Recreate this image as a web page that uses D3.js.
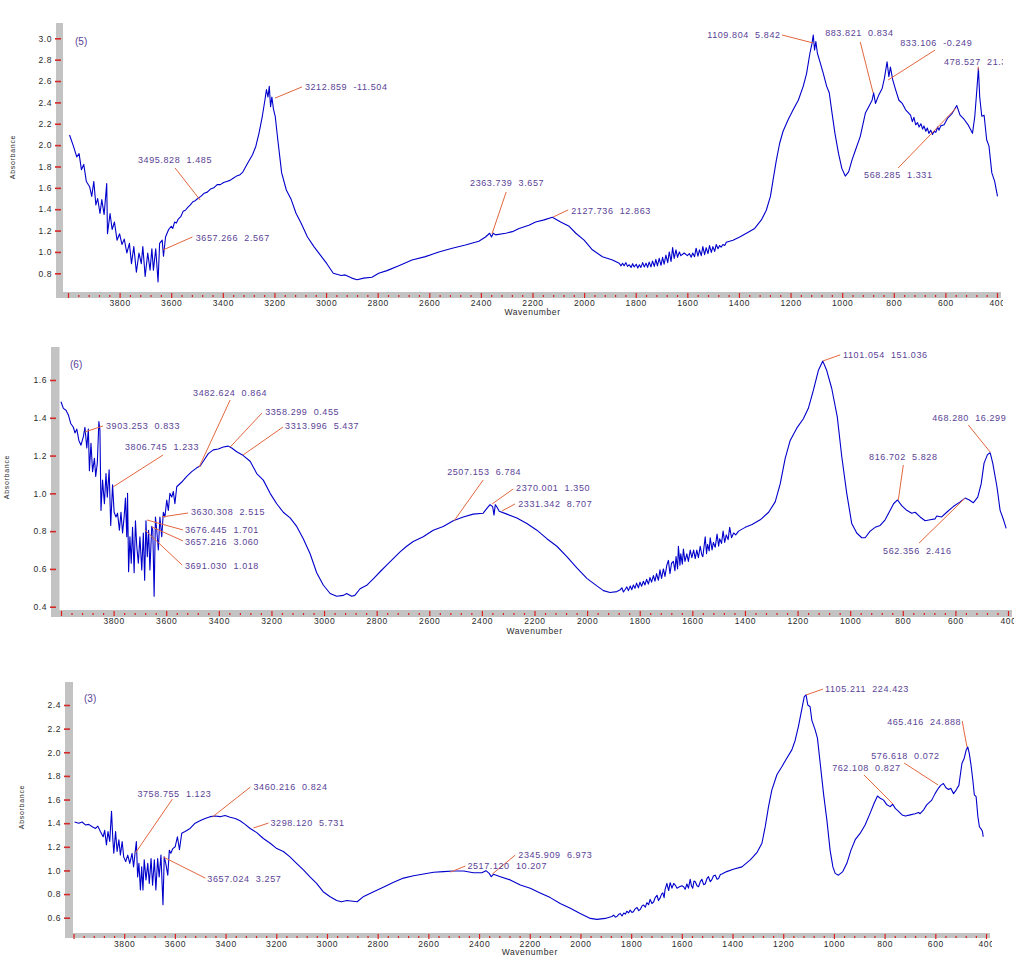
<!DOCTYPE html>
<html>
<head>
<meta charset="utf-8">
<script src="https://cdn.jsdelivr.net/npm/d3@7"></script>
<style>
  body { margin: 0; background: #fff; }
  svg text { font-family: "Liberation Sans", Arial, sans-serif; }
  .tick text { fill: #2a2a2a; font-size: 8.5px; letter-spacing: 0.6px; }
  .peak-label { fill: #5a4296; font-size: 9px; letter-spacing: 0.6px; white-space: pre; }
  .panel-name { fill: #5a4296; font-size: 10px; }
  .axis-title { fill: #2a2a2a; font-size: 8.5px; letter-spacing: 0.6px; }
  .y-title { fill: #2a2a2a; font-size: 7px; letter-spacing: 0.7px; }
</style>
</head>
<body>
<svg id="chart" width="1028" height="963"></svg>
<script>
// ---- data: [wavenumber, absorbance] ----
const spec5 = [
  [3994,2.095],[3979,1.99],[3966,1.89],[3957,1.92],[3948,1.77],[3939,1.82],[3929,1.66],[3916,1.61],
  [3908,1.52],[3900,1.66],[3892,1.44],[3885,1.50],[3876,1.36],[3869,1.49],[3860,1.35],[3850,1.64],
  [3847,1.17],[3837,1.36],[3829,1.21],[3820,1.28],[3810,1.11],[3800,1.17],[3791,1.07],[3782,1.12],
  [3772,0.99],[3762,1.08],[3754,0.89],[3745,1.05],[3735,0.81],[3725,0.99],[3716,0.89],[3710,1.05],
  [3701,0.77],[3691,0.99],[3682,0.83],[3675,1.03],[3669,0.83],[3660,1.03],[3651,0.72],[3645,1.08],
  [3635,1.11],[3630,0.96],[3622,1.14],[3610,1.21],[3600,1.24],[3594,1.22],[3587,1.28],[3580,1.27],
  [3572,1.31],[3563,1.33],[3554,1.38],[3545,1.39],[3535,1.42],[3526,1.44],[3516,1.47],[3507,1.48],
  [3497,1.50],[3485,1.52],[3472,1.55],[3460,1.56],[3447,1.59],[3435,1.60],[3422,1.63],[3410,1.63],
  [3397,1.65],[3385,1.66],[3372,1.67],[3360,1.69],[3347,1.71],[3335,1.72],[3322,1.75],[3304,1.83],
  [3285,1.91],[3272,1.99],[3260,2.11],[3247,2.27],[3237,2.42],
  [3231,2.52],[3225,2.45],[3220,2.55],[3215,2.36],[3210,2.45],[3204,2.34],[3197,2.27],[3187,2.05],
  [3172,1.74],[3154,1.58],[3135,1.49],[3116,1.36],[3097,1.27],[3072,1.14],[3047,1.05],[3022,0.97],
  [2997,0.89],[2972,0.80],[2941,0.78],[2926,0.785],[2900,0.755],[2880,0.74],[2854,0.755],[2822,0.763],
  [2796,0.80],[2764,0.825],[2718,0.87],[2667,0.925],[2615,0.956],[2563,1.0],[2511,1.035],[2460,1.065],
  [2408,1.10],[2382,1.14],[2366,1.175],[2359,1.14],[2352,1.175],[2343,1.16],[2304,1.175],[2278,1.19],
  [2252,1.22],[2214,1.25],[2188,1.28],[2155,1.30],[2123,1.325],[2091,1.28],[2058,1.24],[2032,1.175],
  [2000,1.11],[1968,1.02],[1929,0.955],[1890,0.925],[1864,0.894],[1857,0.87],[1851,0.895],[1845,0.87],
  [1838,0.90],[1832,0.865],[1825,0.88],[1818,0.855],[1812,0.89],[1806,0.86],[1798,0.885],[1792,0.85],
  [1786,0.88],[1780,0.855],[1773,0.90],[1767,0.86],[1760,0.895],[1754,0.855],[1748,0.905],[1741,0.86],
  [1735,0.915],[1728,0.865],[1722,0.93],[1716,0.87],[1709,0.94],[1702,0.875],[1696,0.95],[1690,0.885],
  [1683,0.97],[1676,0.90],[1670,1.0],[1663,0.91],[1657,1.04],[1651,0.94],[1644,1.02],[1638,0.95],
  [1631,1.0],[1625,0.965],[1612,0.99],[1600,0.965],[1592,0.985],[1585,0.95],[1579,0.99],[1572,0.955],
  [1566,1.035],[1559,0.96],[1553,1.02],[1546,0.965],[1540,1.05],[1533,0.975],[1527,1.04],[1520,0.985],
  [1514,1.06],[1507,0.995],[1501,1.05],[1494,1.005],[1488,1.07],[1481,1.03],[1475,1.06],[1469,1.045],
  [1462,1.07],[1455,1.06],[1449,1.09],
  [1423,1.11],[1397,1.14],[1371,1.175],[1339,1.22],[1313,1.30],[1294,1.39],[1278,1.52],[1268,1.67],
  [1255,1.86],[1242,2.02],[1229,2.13],[1209,2.24],[1190,2.33],[1170,2.42],[1151,2.55],[1138,2.67],
  [1125,2.86],[1117,2.95],[1112,3.03],[1107,2.89],[1102,2.97],[1096,2.86],[1086,2.78],[1073,2.67],
  [1060,2.55],[1050,2.49],[1041,2.33],[1028,2.11],[1014,1.92],[1001,1.78],[988,1.71],[975,1.75],
  [962,1.86],[949,1.95],[930,2.08],[910,2.30],[897,2.36],[884,2.42],[878,2.49],[871,2.39],
  [858,2.47],[845,2.53],[836,2.63],[826,2.78],[819,2.64],[813,2.73],[804,2.61],[793,2.52],
  [780,2.42],[767,2.39],[754,2.33],[735,2.28],[728,2.22],[722,2.26],[715,2.19],[708,2.21],
  [702,2.17],[695,2.20],[688,2.15],[683,2.18],[676,2.13],[670,2.16],[664,2.11],[657,2.14],
  [650,2.10],[644,2.13],[637,2.12],[630,2.17],[625,2.14],[618,2.18],[605,2.19],[592,2.25],
  [573,2.30],[556,2.37],[543,2.28],[527,2.24],[512,2.19],[495,2.11],[486,2.27],[478,2.52],
  [472,2.72],[467,2.45],[459,2.27],[450,2.28],[440,2.05],[431,1.99],[420,1.74],[409,1.66],[398,1.52]
];

const spec6 = [
  [4000,1.485],[3991,1.45],[3981,1.44],[3972,1.415],[3963,1.37],[3953,1.35],[3947,1.32],[3940,1.34],
  [3932,1.28],[3924,1.255],[3915,1.30],[3909,1.35],[3902,1.24],[3896,1.34],[3892,1.12],[3886,1.265],
  [3880,1.115],[3873,1.185],[3868,1.09],[3862,1.16],[3856,1.38],[3852,1.335],[3848,0.91],[3842,1.07],
  [3835,0.945],[3829,1.105],[3824,0.98],[3817,1.125],[3811,0.83],[3804,1.045],[3798,0.90],[3791,0.875],
  [3785,0.895],[3778,0.805],[3772,0.90],[3766,0.79],[3760,0.875],[3755,0.975],[3750,0.77],[3747,1.0],
  [3743,0.585],[3738,0.77],[3733,0.63],[3728,0.82],[3722,0.58],[3717,0.855],[3712,0.72],[3706,0.63],
  [3700,0.77],[3693,0.595],[3687,0.79],[3682,0.54],[3677,0.855],[3672,0.665],[3667,0.805],[3662,0.595],
  [3655,0.825],[3651,0.805],[3646,0.455],[3641,0.875],[3636,0.805],[3630,0.70],[3624,0.875],[3617,0.77],
  [3611,0.90],[3605,0.875],[3598,0.965],[3592,0.91],[3586,1.0],[3579,0.98],[3573,1.01],[3567,0.945],
  [3560,1.035],[3541,1.06],[3522,1.09],[3503,1.115],[3484,1.135],[3471,1.145],[3459,1.17],[3440,1.21],
  [3421,1.23],[3402,1.235],[3383,1.245],[3364,1.25],[3351,1.24],[3332,1.22],[3307,1.20],[3281,1.17],
  [3256,1.105],[3231,1.07],[3205,1.0],[3180,0.945],[3155,0.90],[3129,0.87],[3104,0.825],[3079,0.76],
  [3053,0.68],[3028,0.58],[3003,0.515],[2977,0.47],[2952,0.455],[2926,0.46],[2914,0.47],[2895,0.455],
  [2883,0.46],[2863,0.495],[2836,0.515],[2811,0.55],[2787,0.585],[2762,0.62],[2737,0.655],[2711,0.69],
  [2686,0.72],[2661,0.745],[2623,0.77],[2585,0.805],[2547,0.825],[2509,0.855],[2471,0.875],[2433,0.89],
  [2395,0.895],[2381,0.92],[2369,0.94],[2359,0.93],[2354,0.885],[2349,0.94],[2344,0.93],[2334,0.905],
  [2305,0.89],[2267,0.87],[2229,0.84],[2191,0.805],[2153,0.76],[2115,0.72],[2077,0.665],[2039,0.605],
  [2001,0.55],[1963,0.51],[1938,0.485],[1913,0.475],[1887,0.48],[1874,0.49],[1868,0.50],[1862,0.478],
  [1856,0.49],[1849,0.505],[1843,0.485],[1836,0.51],[1830,0.49],[1824,0.515],[1818,0.497],[1812,0.525],
  [1805,0.50],[1799,0.53],[1793,0.508],[1786,0.535],[1780,0.515],[1774,0.545],[1767,0.52],[1761,0.555],
  [1755,0.53],[1748,0.565],[1742,0.535],[1736,0.575],[1729,0.54],[1723,0.595],[1717,0.55],[1710,0.60],
  [1704,0.56],[1697,0.62],[1691,0.645],[1685,0.575],[1679,0.63],[1672,0.64],[1666,0.59],[1662,0.665],
  [1656,0.60],[1653,0.72],[1647,0.62],[1644,0.68],[1638,0.625],[1634,0.705],[1628,0.64],
  [1621,0.68],[1615,0.64],[1608,0.70],[1602,0.66],[1595,0.70],[1589,0.655],[1583,0.70],[1577,0.66],
  [1570,0.72],[1564,0.675],[1560,0.665],[1551,0.77],[1546,0.68],[1542,0.73],[1536,0.695],[1532,0.765],
  [1525,0.70],[1520,0.74],[1513,0.715],[1506,0.785],[1500,0.72],[1496,0.76],[1489,0.735],[1483,0.80],
  [1477,0.74],[1471,0.78],[1464,0.755],[1458,0.82],[1451,0.765],[1443,0.79],[1435,0.78],[1424,0.80],
  [1399,0.82],[1373,0.835],[1342,0.86],[1310,0.90],[1285,0.955],[1266,1.05],[1247,1.185],[1228,1.28],
  [1203,1.345],[1178,1.395],[1159,1.45],[1140,1.545],[1121,1.65],[1104,1.70],[1089,1.65],[1070,1.555],
  [1049,1.405],[1032,1.195],[1013,1.0],[994,0.84],[975,0.79],[956,0.765],[943,0.765],[924,0.80],
  [905,0.82],[886,0.83],[867,0.86],[848,0.91],[835,0.945],[820,0.965],[804,0.935],[785,0.91],
  [766,0.895],[753,0.90],[734,0.875],[715,0.855],[696,0.86],[677,0.865],[671,0.88],[652,0.875],
  [633,0.90],[608,0.93],[582,0.955],[563,0.975],[547,0.965],[532,0.95],[515,0.98],[502,1.05],
  [491,1.16],[478,1.205],[468,1.215],[458,1.16],[442,1.035],[430,0.91],[417,0.86],[407,0.815]
];

const spec3 = [
  [3996,1.41],[3979,1.40],[3966,1.41],[3953,1.385],[3940,1.39],[3926,1.37],[3913,1.355],[3904,1.375],
  [3894,1.33],[3883,1.285],[3877,1.34],[3870,1.215],[3864,1.33],[3857,1.245],[3850,1.50],[3845,1.27],
  [3841,1.145],[3834,1.33],[3828,1.16],[3821,1.26],[3815,1.13],[3808,1.245],[3802,1.115],[3794,1.075],
  [3786,1.13],[3778,1.06],[3769,1.145],[3763,1.03],[3756,1.17],[3752,1.245],[3747,0.945],[3742,1.06],
  [3736,0.835],[3731,1.03],[3726,0.835],[3721,1.09],[3714,0.92],[3707,1.06],[3701,0.89],[3694,1.10],
  [3688,0.875],[3681,1.09],[3675,0.835],[3668,1.10],[3662,0.945],[3655,1.13],[3647,0.71],[3642,1.115],
  [3636,1.06],[3628,0.96],[3622,1.17],[3616,1.145],[3608,1.185],[3599,1.20],[3590,1.285],[3582,1.175],
  [3573,1.315],[3560,1.33],[3540,1.355],[3520,1.40],[3501,1.42],[3481,1.44],[3461,1.455],[3441,1.46],
  [3422,1.455],[3402,1.465],[3382,1.45],[3362,1.44],[3343,1.42],[3323,1.39],[3303,1.355],[3277,1.32],
  [3251,1.27],[3224,1.23],[3198,1.185],[3172,1.16],[3146,1.115],[3120,1.06],[3093,1.005],[3067,0.945],
  [3041,0.89],[3015,0.82],[2989,0.78],[2962,0.745],[2943,0.735],[2921,0.745],[2881,0.735],[2855,0.78],
  [2816,0.82],[2776,0.86],[2737,0.90],[2698,0.935],[2658,0.955],[2619,0.97],[2579,0.985],[2540,0.99],
  [2500,0.995],[2461,0.995],[2422,0.98],[2389,0.98],[2373,0.998],[2360,0.975],[2352,0.947],[2343,0.967],
  [2316,0.947],[2277,0.92],[2237,0.876],[2198,0.85],[2159,0.81],[2119,0.77],[2080,0.72],[2040,0.68],
  [2001,0.636],[1961,0.594],[1935,0.586],[1902,0.594],[1876,0.61],[1869,0.622],[1862,0.605],[1856,0.61],
  [1849,0.628],[1843,0.636],[1836,0.615],[1829,0.64],[1823,0.63],[1817,0.655],[1810,0.64],[1804,0.665],
  [1797,0.645],[1791,0.65],[1784,0.675],[1777,0.687],[1770,0.66],[1764,0.67],[1757,0.70],[1751,0.707],
  [1744,0.69],[1738,0.727],[1731,0.71],[1725,0.755],[1718,0.72],[1711,0.735],[1705,0.77],[1698,0.79],
  [1692,0.745],[1685,0.77],[1680,0.80],[1675,0.81],[1670,0.77],[1666,0.84],[1659,0.89],[1652,0.83],
  [1646,0.896],[1639,0.85],[1632,0.89],[1626,0.876],[1619,0.85],[1613,0.857],[1600,0.87],[1593,0.862],
  [1587,0.84],[1580,0.885],[1574,0.85],[1567,0.925],[1562,0.87],[1557,0.85],[1552,0.91],[1547,0.905],
  [1540,0.87],[1534,0.862],[1527,0.905],[1521,0.925],[1514,0.88],[1508,0.885],[1501,0.93],[1495,0.947],
  [1488,0.905],[1482,0.92],[1475,0.955],[1468,0.96],[1461,0.925],[1455,0.932],[1448,0.965],[1442,0.97],
  [1423,0.99],[1397,1.01],[1363,1.03],[1330,1.09],[1304,1.15],[1284,1.23],[1271,1.37],[1258,1.54],
  [1245,1.68],[1225,1.81],[1205,1.88],[1186,1.95],[1166,2.02],[1153,2.10],[1140,2.22],[1127,2.36],
  [1117,2.47],[1110,2.485],[1103,2.40],[1094,2.385],[1087,2.27],[1074,2.19],[1065,2.12],[1054,1.905],
  [1041,1.65],[1028,1.43],[1015,1.17],[1004,1.03],[995,0.975],[982,0.96],[965,0.99],[949,1.06],
  [933,1.17],[916,1.26],[896,1.315],[877,1.385],[857,1.485],[841,1.57],[828,1.63],[817,1.61],
  [804,1.595],[791,1.555],[778,1.54],[768,1.56],[758,1.525],[745,1.50],[731,1.47],[718,1.46],
  [699,1.47],[680,1.48],[666,1.49],[660,1.48],[647,1.51],[634,1.555],[614,1.595],[601,1.65],
  [588,1.695],[579,1.72],[568,1.735],[558,1.70],[548,1.685],[539,1.695],[528,1.65],[518,1.68],
  [507,1.72],[495,1.905],[486,1.95],[478,2.02],[472,2.045],[466,1.99],[459,1.89],[452,1.765],
  [446,1.64],[439,1.625],[432,1.455],[426,1.37],[419,1.35],[414,1.33],[411,1.285]
];

// peak labels: text, label spot, leader start, leader end (all in wavenumber / absorbance)
const peaks5 = [
  {text: "3495.828  1.485",   label: [3729, 1.861], from: [3585, 1.786], to: [3488, 1.486]},
  {text: "3657.266  2.567",   label: [3505, 1.131], from: [3518, 1.14],  to: [3632, 1.018]},
  {text: "3212.859  -11.504", label: [3082, 2.545], from: [3093, 2.545], to: [3198, 2.44]},
  {text: "2363.739  3.657",   label: [2442, 1.646], from: [2302, 1.561], to: [2357, 1.168]},
  {text: "2127.736  12.863",  label: [2050, 1.383], from: [2062, 1.393], to: [2120, 1.327]},
  {text: "1109.804  5.842",   label: [1523, 3.031], from: [1233, 3.031], to: [1112, 2.956]},
  {text: "883.821  0.834",    label: [1066, 3.05],  from: [930, 2.966],  to: [880, 2.488]},
  {text: "833.106  -0.249",   label: [775, 2.956],  from: [640, 2.89],   to: [822, 2.61]},
  {text: "478.527  21.354",   label: [605, 2.78],   from: [473, 2.735],  to: [473, 2.70]},
  {text: "568.285  1.331",    label: [915, 1.72],   from: [783, 1.786],  to: [558, 2.348]}
];

const peaks6 = [
  {text: "3903.253  0.833",   label: [3829, 1.357], from: [3840, 1.357], to: [3909, 1.325]},
  {text: "3806.745  1.233",   label: [3757, 1.245], from: [3612, 1.203], to: [3802, 1.034]},
  {text: "3482.624  0.864",   label: [3498, 1.531], from: [3357, 1.494], to: [3475, 1.139]},
  {text: "3358.299  0.455",   label: [3224, 1.431], from: [3236, 1.425], to: [3357, 1.245]},
  {text: "3313.996  5.437",   label: [3148, 1.357], from: [3156, 1.351], to: [3308, 1.203]},
  {text: "3630.308  2.515",   label: [3506, 0.901], from: [3517, 0.896], to: [3616, 0.875]},
  {text: "3676.445  1.701",   label: [3529, 0.806], from: [3536, 0.806], to: [3673, 0.859]},
  {text: "3657.216  3.060",   label: [3529, 0.743], from: [3536, 0.748], to: [3654, 0.822]},
  {text: "3691.030  1.018",   label: [3529, 0.616], from: [3540, 0.621], to: [3681, 0.806]},
  {text: "2507.153  6.784",   label: [2532, 1.113], from: [2395, 1.071], to: [2506, 0.854]},
  {text: "2370.001  1.350",   label: [2270, 1.028], from: [2281, 1.023], to: [2361, 0.944]},
  {text: "2331.342  8.707",   label: [2262, 0.944], from: [2274, 0.944], to: [2323, 0.907]},
  {text: "1101.054  151.036", label: [1027, 1.733], from: [1038, 1.733], to: [1103, 1.701]},
  {text: "468.280  16.299",   label: [688, 1.399],  from: [551, 1.362],  to: [468, 1.219]},
  {text: "816.702  5.828",    label: [928, 1.193],  from: [798, 1.15],   to: [817, 0.965]},
  {text: "562.356  2.416",    label: [875, 0.695],  from: [738, 0.737],  to: [563, 0.975]}
];

const peaks3 = [
  {text: "3758.755  1.123",   label: [3748, 1.646], from: [3610, 1.604], to: [3756, 1.147]},
  {text: "3460.216  0.824",   label: [3290, 1.706], from: [3302, 1.706], to: [3452, 1.452]},
  {text: "3298.120  5.731",   label: [3223, 1.401], from: [3231, 1.401], to: [3290, 1.359]},
  {text: "3657.024  3.257",   label: [3472, 0.927], from: [3480, 0.935], to: [3645, 1.113]},
  {text: "2517.120  10.207",  label: [2446, 1.037], from: [2454, 1.037], to: [2513, 0.986]},
  {text: "2345.909  6.973",   label: [2245, 1.13],  from: [2257, 1.13],  to: [2348, 0.969]},
  {text: "1105.211  224.423", label: [1035, 2.535], from: [1043, 2.535], to: [1110, 2.485]},
  {text: "465.416  24.888",   label: [790, 2.256],  from: [494, 2.265],  to: [475, 2.044]},
  {text: "576.618  0.072",    label: [853, 1.968],  from: [723, 1.909],  to: [589, 1.723]},
  {text: "762.108  0.827",    label: [1007, 1.867], from: [881, 1.807],  to: [767, 1.562]}
];

const yTicks5 = [0.8, 1.0, 1.2, 1.4, 1.6, 1.8, 2.0, 2.2, 2.4, 2.6, 2.8, 3.0];
const yTicks6 = [0.4, 0.6, 0.8, 1.0, 1.2, 1.4, 1.6];
const yTicks3 = [0.6, 0.8, 1.0, 1.2, 1.4, 1.6, 1.8, 2.0, 2.2, 2.4];
const xMajor = d3.range(4000, 399, -200);
const xMinor = d3.range(4000, 399, -40).filter(v => v % 200 !== 0);


class SpectrumPanel {
  constructor(_config, _data, _peaks, _yTicks) {
    this.config = _config;
    this.data = _data;
    this.peaks = _peaks;
    this.yTicks = _yTicks;
    this.initVis();
  }

  initVis() {
    let vis = this;
    const c = vis.config;
    const b = c.band;

    vis.svg = d3.select(c.parentElement);

    // texts past the right end of the axis band are cut off, like the original
    vis.svg.append('clipPath').attr('id', 'clip-' + c.id)
      .append('rect')
        .attr('x', 0).attr('y', 0)
        .attr('width', b.right + 2).attr('height', 963);

    vis.g = vis.svg.append('g')
      .attr('clip-path', 'url(#clip-' + c.id + ')');

    vis.xScale = d3.scaleLinear().domain([4000, 400]).range(c.xRange);
    vis.yScale = d3.scaleLinear().domain(c.yDomain).range(c.yRange);

    // grey axis bands
    vis.g.append('rect')
      .attr('x', b.left).attr('y', b.top)
      .attr('width', b.w).attr('height', b.axisBottom - b.top)
      .attr('fill', '#c3c3c3');
    vis.g.append('rect')
      .attr('x', b.left).attr('y', b.axisTop)
      .attr('width', b.right - b.left).attr('height', b.axisBottom - b.axisTop)
      .attr('fill', '#c3c3c3');

    vis.renderVis();
  }

  renderVis() {
    let vis = this;
    const c = vis.config;
    const b = c.band;

    // y axis
    const yAxis = d3.axisLeft(vis.yScale)
      .tickValues(vis.yTicks)
      .tickFormat(d3.format('.1f'))
      .tickSize(6)
      .tickPadding(3);
    const yg = vis.g.append('g')
      .attr('transform', `translate(${b.left + 5},0)`)
      .call(yAxis);
    yg.select('.domain').remove();
    yg.selectAll('.tick line').attr('stroke', '#d42a2a').attr('stroke-width', 1.6);

    // x axis, major ticks + labels
    const xAxis = d3.axisBottom(vis.xScale)
      .tickValues(xMajor)
      .tickFormat(d => d === 4000 ? '' : d)
      .tickSize(5)
      .tickPadding(2);
    const xg = vis.g.append('g')
      .attr('transform', `translate(0,${b.axisTop + 1})`)
      .call(xAxis);
    xg.select('.domain').remove();
    xg.selectAll('.tick line').attr('stroke', '#e01c1c').attr('stroke-width', 1.2);

    // minor ticks
    const xMinorAxis = d3.axisBottom(vis.xScale)
      .tickValues(xMinor)
      .tickFormat('')
      .tickSize(2);
    const xmg = vis.g.append('g')
      .attr('transform', `translate(0,${b.axisTop + 3})`)
      .call(xMinorAxis);
    xmg.select('.domain').remove();
    xmg.selectAll('.tick line').attr('stroke', '#e01c1c').attr('stroke-width', 1.2);

    vis.g.append('text')
      .attr('class', 'axis-title')
      .attr('x', (c.xRange[0] + c.xRange[1]) / 2)
      .attr('y', b.axisBottom + 14)
      .attr('dy', '0.35em')
      .attr('text-anchor', 'middle')
      .text('Wavenumber');

    vis.g.append('text')
      .attr('class', 'y-title')
      .attr('transform', `translate(${c.yLabel[0]},${c.yLabel[1]}) rotate(-90)`)
      .attr('dy', '0.35em')
      .attr('text-anchor', 'middle')
      .text('Absorbance');

    vis.g.append('text')
      .attr('class', 'panel-name')
      .attr('x', c.name[0]).attr('y', c.name[1])
      .attr('dy', '0.35em')
      .text(c.title);

    // spectrum
    const line = d3.line()
      .x(d => vis.xScale(d[0]))
      .y(d => vis.yScale(d[1]));

    vis.g.append('path')
      .datum(vis.data)
      .attr('fill', 'none')
      .attr('stroke', '#0000cc')
      .attr('stroke-width', 1.1)
      .attr('stroke-linejoin', 'round')
      .attr('d', line);

    // peak picks
    const pk = vis.g.append('g').attr('class', 'peaks');
    pk.selectAll('line')
      .data(vis.peaks)
      .join('line')
        .attr('x1', d => vis.xScale(d.from[0]))
        .attr('y1', d => vis.yScale(d.from[1]))
        .attr('x2', d => vis.xScale(d.to[0]))
        .attr('y2', d => vis.yScale(d.to[1]))
        .attr('stroke', '#e2673f')
        .attr('stroke-width', 1);
    pk.selectAll('text')
      .data(vis.peaks)
      .join('text')
        .attr('class', 'peak-label')
        .attr('x', d => vis.xScale(d.label[0]))
        .attr('y', d => vis.yScale(d.label[1]))
        .attr('dy', '0.35em')
        .text(d => d.text);
  }
}

new SpectrumPanel({
  parentElement: '#chart', id: 'p5', title: '(5)',
  xRange: [68, 997], yDomain: [0.8, 3.0], yRange: [273.3, 38.3],
  band: {left: 56, w: 7, top: 23, right: 1001, axisTop: 292, axisBottom: 298},
  name: [75, 41], yLabel: [13, 157]
}, spec5, peaks5, yTicks5);

new SpectrumPanel({
  parentElement: '#chart', id: 'p6', title: '(6)',
  xRange: [61, 1008], yDomain: [0.4, 1.6], yRange: [606.7, 380],
  band: {left: 51, w: 8.5, top: 347, right: 1012, axisTop: 610, axisBottom: 617},
  name: [70, 364], yLabel: [7, 477]
}, spec6, peaks6, yTicks6);

new SpectrumPanel({
  parentElement: '#chart', id: 'p3', title: '(3)',
  xRange: [73.5, 986], yDomain: [0.6, 2.4], yRange: [917.7, 705],
  band: {left: 65, w: 8, top: 682, right: 990, axisTop: 933, axisBottom: 938},
  name: [84, 698], yLabel: [22, 807]
}, spec3, peaks3, yTicks3);
</script>
</body>
</html>
